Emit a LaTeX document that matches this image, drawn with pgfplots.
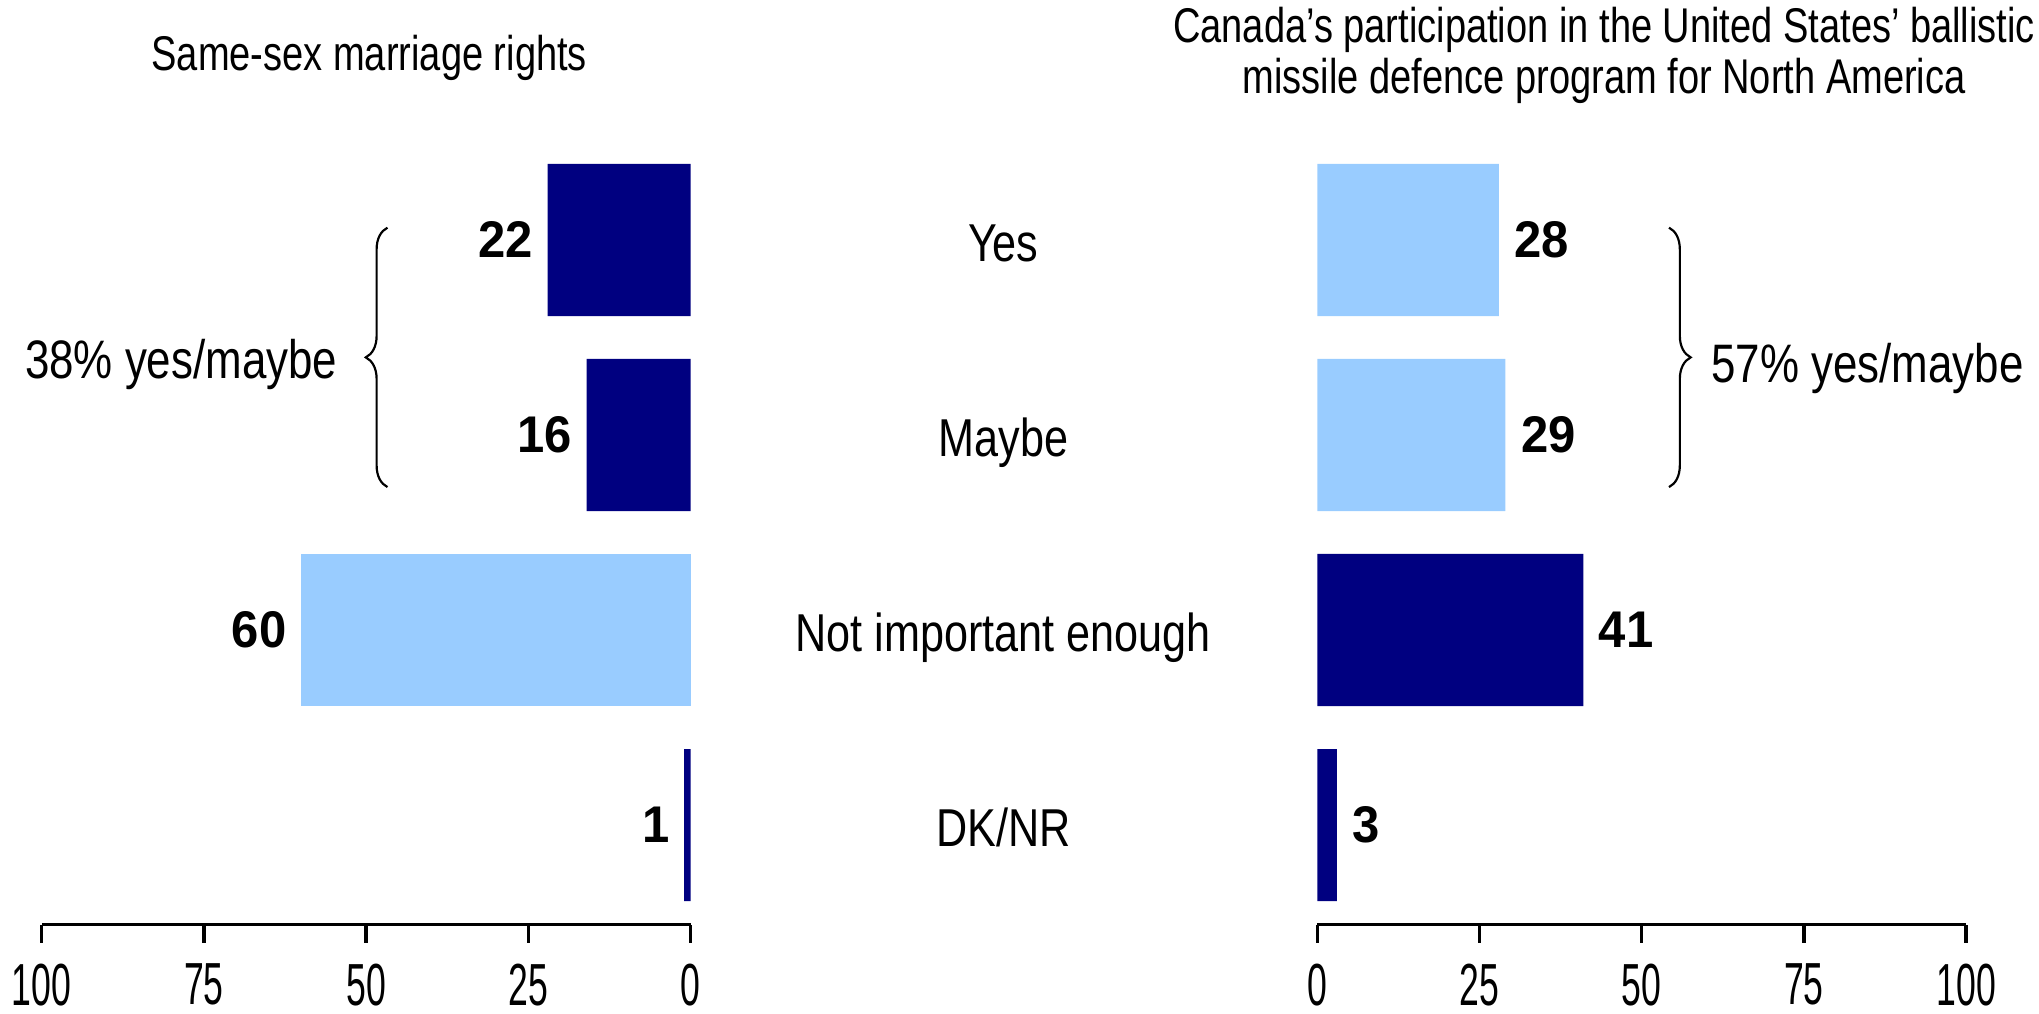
\documentclass[border=0pt]{standalone}
\usepackage{fontspec}
\setmainfont{Liberation Sans}
\newfontfamily\titlefont[FakeStretch=0.78]{Liberation Sans}
\newfontfamily\labfont[FakeStretch=0.81]{Liberation Sans}
\newfontfamily\tickfont[FakeStretch=0.6]{Liberation Sans}
\newfontfamily\valfont[FakeStretch=0.95]{Liberation Sans}
\usepackage{pgfplots}
\pgfplotsset{compat=1.18}
\usetikzlibrary{decorations.pathreplacing}

\definecolor{navy}{HTML}{000080}
\definecolor{sky}{HTML}{99CCFF}

\newcommand\ticksize{\tickfont\fontsize{13.7}{14}\selectfont}
\newcommand\valsize{\valfont\bfseries\fontsize{11.9}{13}\selectfont}
\newcommand\labsize{\labfont\fontsize{12.3}{14}\selectfont}
\newcommand\bracesize{\labfont\fontsize{12.5}{14}\selectfont}
\newcommand\titlesize{\titlefont\fontsize{11.25}{12}\selectfont}

\pgfplotsset{
  half/.style={
    scale only axis, width=149.7pt, height=180.45pt,
    xmin=0, xmax=100, ymin=0.49, ymax=4.5,
    axis x line*=bottom, axis y line=none,
    x axis line style={-, line width=0.8pt},
    xtick={0,25,50,75,100}, ytick=\empty,
    tick align=outside, major tick length=4.2pt,
    every tick/.style={black, line width=0.8pt},
    xticklabel style={font=\ticksize, inner sep=0pt},
    xticklabel shift=4.7pt,
    /pgf/number format/assume math mode=true,
    xbar, bar width=0.78,
    clip=false,
    nodes near coords,
  }
}

\begin{document}
\begin{tikzpicture}
\useasboundingbox (0pt,0pt) rectangle (470.4pt,-233.7pt);

% left: same-sex marriage
\begin{axis}[half, x dir=reverse,
    at={(9.6pt,-213.3pt)}, anchor=south west,
    every node near coord/.append style={font=\valsize, inner sep=0pt, anchor=east, xshift=-3.2pt}]
  \addplot[fill=navy, draw=none, bar shift=0pt] coordinates {(22,4) (16,3) (1,1)};
  \addplot[fill=sky, draw=none, bar shift=0pt] coordinates {(60,2)};
  \node[anchor=base, font=\titlesize] at (axis cs:49.5,4.867) {Same-sex marriage rights};
  \draw[decorate, decoration={brace, amplitude=5pt}, line width=0.5pt]
    (axis cs:46.7,2.733) -- (axis cs:46.7,4.063);
  \node[anchor=base east, font=\bracesize, inner sep=0pt] at (axis cs:54.3,3.29) {38\% yes/maybe};
\end{axis}

% right: missile defence
\begin{axis}[half,
    at={(303.9pt,-213.3pt)}, anchor=south west,
    every node near coord/.append style={font=\valsize, inner sep=0pt, anchor=west, xshift=3.4pt}]
  \addplot[fill=sky, draw=none, bar shift=0pt] coordinates {(28,4) (29,3)};
  \addplot[fill=navy, draw=none, bar shift=0pt] coordinates {(41,2) (3,1)};
  \node[anchor=base, font=\titlesize] at (axis cs:44.2,5.01) {Canada’s participation in the United States’ ballistic};
  \node[anchor=base, font=\titlesize] at (axis cs:44.2,4.75) {missile defence program for North America};
  \draw[decorate, decoration={brace, amplitude=5pt}, line width=0.5pt]
    (axis cs:54.2,4.063) -- (axis cs:54.2,2.733);
  \node[anchor=base west, font=\bracesize, inner sep=0pt] at (axis cs:60.6,3.27) {57\% yes/maybe};
  % category labels between the two panels
  \node[anchor=base, font=\labsize] at (axis cs:-48.4,3.89) {Yes};
  \node[anchor=base, font=\labsize] at (axis cs:-48.4,2.89) {Maybe};
  \node[anchor=base, font=\labsize] at (axis cs:-48.4,1.89) {Not important enough};
  \node[anchor=base, font=\labsize] at (axis cs:-48.4,0.89) {DK/NR};
\end{axis}
\end{tikzpicture}
\end{document}
